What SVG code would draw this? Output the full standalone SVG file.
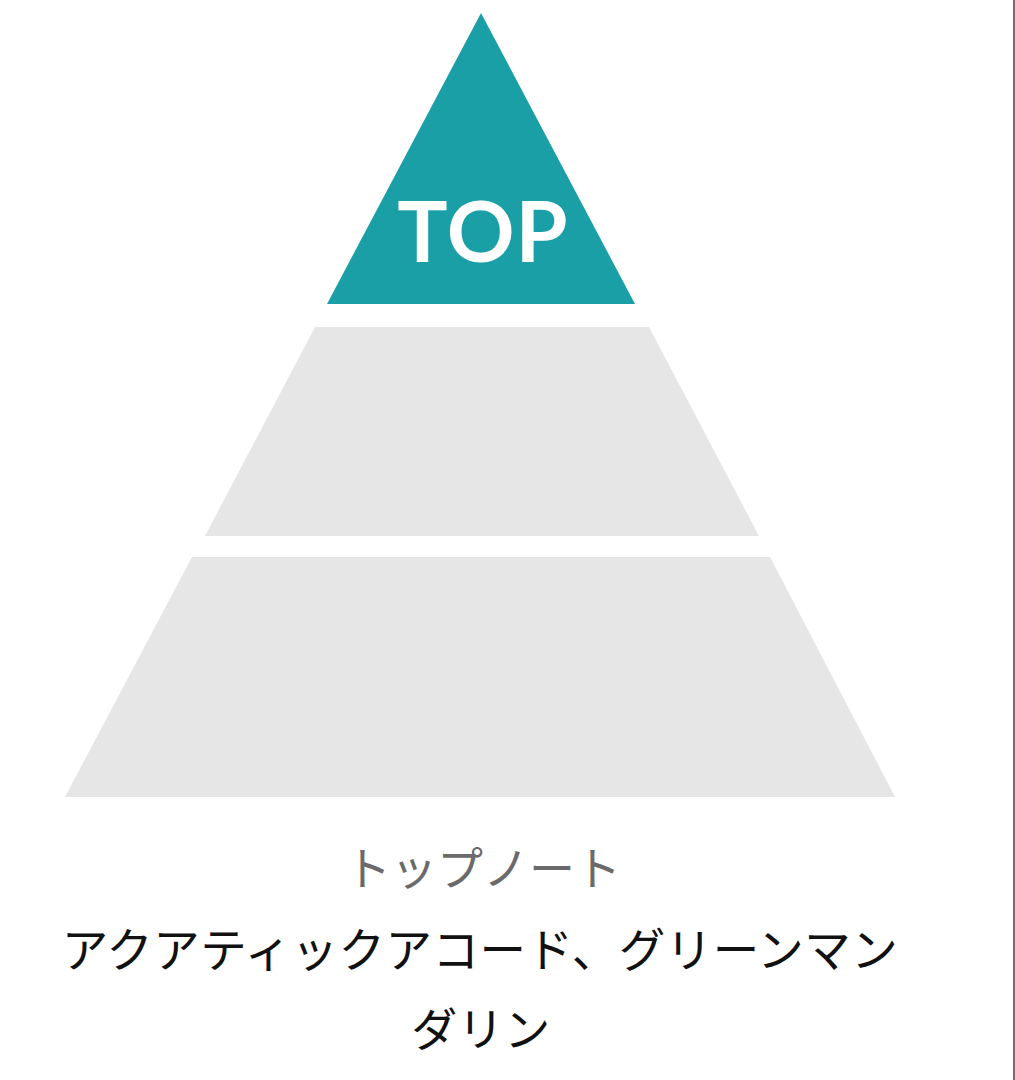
<svg xmlns="http://www.w3.org/2000/svg" width="1015" height="1080" viewBox="0 0 1015 1080">
<style>
.tier{fill:#e6e6e6}
.jp{font-family:"Noto Sans CJK JP","Noto Sans CJK SC",sans-serif;text-anchor:middle}
</style>
<rect x="0" y="0" width="1015" height="1080" fill="#ffffff"/>
<g id="top-tier">
<polygon points="481,13 635,304 327,304" fill="#1b9fa6"/>
<text x="483" y="262" font-family="Lato, 'Liberation Sans', sans-serif" font-size="84" font-weight="bold" fill="#ffffff" text-anchor="middle" letter-spacing="1">TOP</text>
</g>
<g id="middle-tier">
<polygon class="tier" points="315,327 649,327 759,536 205,536"/>
</g>
<g id="base-tier">
<polygon class="tier" points="192,557 770,557 895,797 65,797"/>
</g>
<g id="labels">
<text class="jp" x="483" y="885" font-size="46" fill="#6a6a6a">トップノート</text>
<text class="jp" x="480" y="967" font-size="46.5" letter-spacing="0.5" fill="#111111">アクアティックアコード、グリーンマン</text>
<text class="jp" x="481" y="1046" font-size="46" letter-spacing="0.5" fill="#111111">ダリン</text>
</g>
<g id="connectors"></g>
<rect x="1013" y="0" width="2" height="1080" fill="#707070"/>
</svg>
